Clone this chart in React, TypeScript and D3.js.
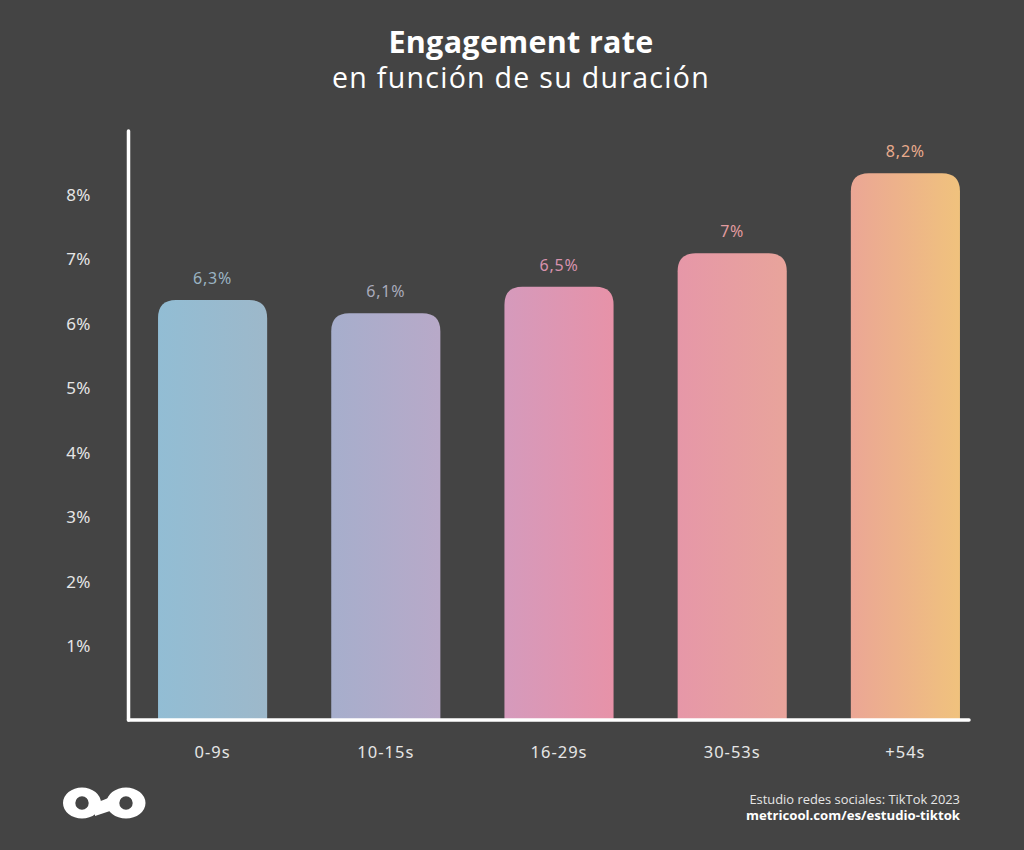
import React from "react";
import * as d3 from "d3";

const categories = ["0-9s", "10-15s", "16-29s", "30-53s", "+54s"];
const values = [6.3, 6.1, 6.5, 7.0, 8.2];
const valueLabels = ["6,3%", "6,1%", "6,5%", "7%", "8,2%"];
const yTicks = [1, 2, 3, 4, 5, 6, 7, 8];
const gradStart = ["#92bdd4", "#a6aecc", "#d59abc", "#e697a8", "#eba695"];
const gradEnd = ["#9db8ca", "#b8a9c8", "#e792a8", "#e8a49b", "#f0c27d"];
const labelColors = ["#9ab3c2", "#a9abbb", "#d892ad", "#e19b9f", "#e9ab8d"];

const W = 1024;
const H = 850;
const BG = "#444444";

function topRoundedRect(x: number, y: number, w: number, h: number, r: number) {
  const rr = Math.min(r, w / 2, h);
  return `M${x},${y + h}V${y + rr}Q${x},${y} ${x + rr},${y}H${x + w - rr}Q${x + w},${y} ${x + w},${y + rr}V${y + h}Z`;
}

function ring(cx: number, cy: number, rx: number, ry: number, r: number) {
  return (
    `M${cx - rx},${cy}a${rx},${ry} 0 1,0 ${2 * rx},0a${rx},${ry} 0 1,0 ${-2 * rx},0Z` +
    `M${cx - r},${cy}a${r},${r} 0 1,0 ${2 * r},0a${r},${r} 0 1,0 ${-2 * r},0Z`
  );
}

export default function App() {
  const x = d3
    .scaleBand<string>()
    .domain(categories)
    .range([126, 992])
    .paddingInner(0.37)
    .paddingOuter(0.185);
  const y = d3.scaleLinear().domain([0, 8.85]).range([720, 130]);
  const tickY = d3.scaleLinear().domain([1, 8]).range([646, 195]);
  const font = "'Noto Sans', 'Open Sans', sans-serif";

  return (
    <svg
      width={W}
      height={H}
      style={{ display: "block", position: "absolute", left: 0, top: 0 }}
    >
      <defs>
        {categories.map((c, i) => (
          <linearGradient key={c} id={`g${i}`} x1="0" x2="1" y1="0" y2="0">
            <stop offset="0%" stopColor={gradStart[i]} />
            <stop offset="100%" stopColor={gradEnd[i]} />
          </linearGradient>
        ))}
      </defs>
      <rect x={0} y={0} width={W} height={H} fill={BG} />
      <text
        x={521}
        y={53}
        textAnchor="middle"
        fill="#ffffff"
        fontFamily="'Open Sans', Lato, sans-serif"
        fontWeight={700}
        fontSize={30.5}
        letterSpacing={0.3}
      >
        Engagement rate
      </text>
      <text
        x={521}
        y={88}
        textAnchor="middle"
        fill="#ffffff"
        fontFamily="'Open Sans', Lato, sans-serif"
        fontWeight={400}
        fontSize={28.5}
        letterSpacing={1.3}
      >
        en función de su duración
      </text>

      {yTicks.map((t) => (
        <text
          key={t}
          x={91}
          y={tickY(t)}
          dy="0.35em"
          textAnchor="end"
          fill="#e6e6e6"
          fontFamily={font}
          fontSize={17}
          letterSpacing={0.5}
        >
          {t}%
        </text>
      ))}

      {categories.map((c, i) => {
        const bx = x(c)!;
        const bw = x.bandwidth();
        const top = y(values[i]);
        return (
          <g key={c}>
            <path
              d={topRoundedRect(bx, top, bw, y(0) - top, 18)}
              fill={`url(#g${i})`}
            />
            <text
              x={bx + bw / 2}
              y={top - 16}
              textAnchor="middle"
              fill={labelColors[i]}
              fontFamily={font}
              fontSize={16}
              letterSpacing={0.8}
            >
              {valueLabels[i]}
            </text>
            <text
              x={bx + bw / 2}
              y={752}
              dy="0.35em"
              textAnchor="middle"
              fill="#e6e6e6"
              fontFamily={font}
              fontSize={16.5}
              letterSpacing={1}
            >
              {c}
            </text>
          </g>
        );
      })}

      <line
        x1={128.5}
        x2={128.5}
        y1={131}
        y2={720}
        stroke="#ffffff"
        strokeWidth={3.5}
        strokeLinecap="round"
      />
      <line
        x1={128.5}
        x2={969}
        y1={720}
        y2={720}
        stroke="#ffffff"
        strokeWidth={3.5}
        strokeLinecap="round"
      />

      <path
        d={ring(82, 803, 19, 15.5, 6.7) + ring(126, 803, 19.5, 15.5, 6.7)}
        fill="#ffffff"
        fillRule="evenodd"
      />
      <path d="M95,803 Q104,800 113,796 L113,810 Q104,813 95,816 Z" fill="#ffffff" />

      <text
        x={960}
        y={804}
        textAnchor="end"
        fill="#e6e6e6"
        fontFamily="'Open Sans', 'Noto Sans', sans-serif"
        fontSize={12.9}
      >
        Estudio redes sociales: TikTok 2023
      </text>
      <text
        x={960}
        y={820}
        textAnchor="end"
        fill="#ffffff"
        fontFamily="'Open Sans', 'Noto Sans', sans-serif"
        fontWeight={700}
        fontSize={13.2}
      >
        metricool.com/es/estudio-tiktok
      </text>
    </svg>
  );
}
